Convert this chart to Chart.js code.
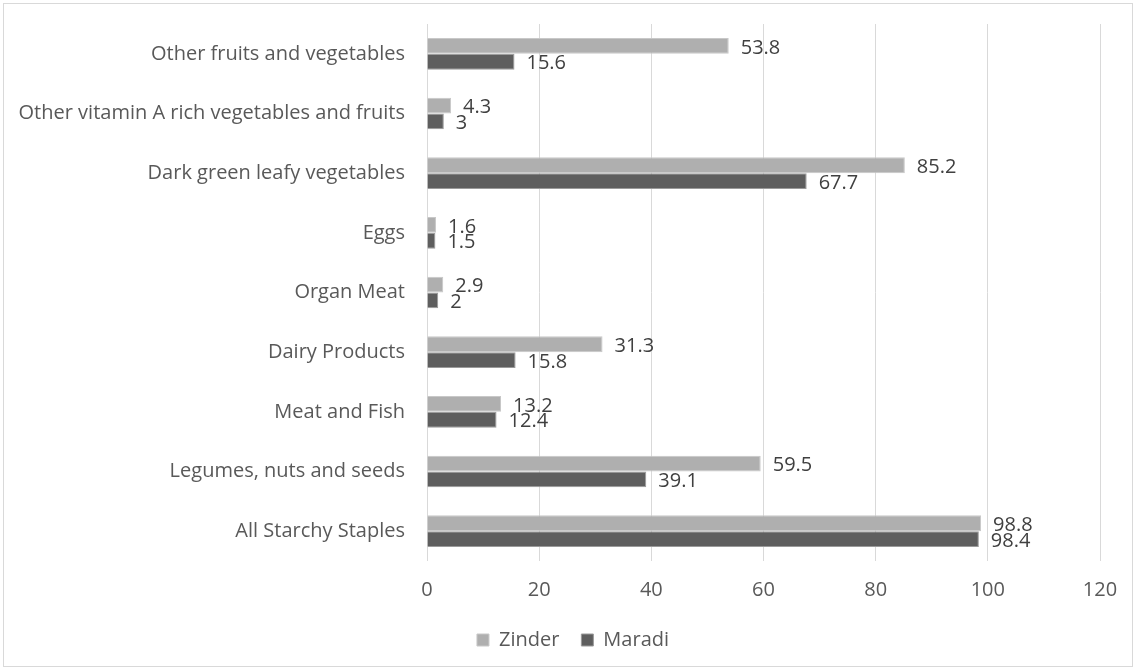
<!DOCTYPE html>
<html>
<head>
<meta charset="utf-8">
<script src="https://cdn.jsdelivr.net/npm/chart.js@4/dist/chart.umd.min.js"></script>
<style>
html,body{margin:0;padding:0;background:#fff;}
#wrap{position:absolute;left:0;top:0;width:1136px;height:670px;}
</style>
</head>
<body>
<div id="wrap"><canvas id="c" width="1136" height="670"></canvas></div>
<script>
const categories = [
  "Other fruits and vegetables",
  "Other vitamin A rich vegetables and fruits",
  "Dark green leafy vegetables",
  "Eggs",
  "Organ Meat",
  "Dairy Products",
  "Meat and Fish",
  "Legumes, nuts and seeds",
  "All Starchy Staples"
];
const zinder = [53.8, 4.3, 85.2, 1.6, 2.9, 31.3, 13.2, 59.5, 98.8];
const maradi = [15.6, 3, 67.7, 1.5, 2, 15.8, 12.4, 39.1, 98.4];
const xTicks = [0, 20, 40, 60, 80, 100, 120];

const FONT = "'Open Sans'";
const FS = 20;

const frame = {
  id: 'frame',
  beforeDraw(chart) {
    const ctx = chart.ctx;
    ctx.save();
    ctx.fillStyle = '#fff';
    ctx.fillRect(0, 0, chart.width, chart.height);
    ctx.strokeStyle = '#d9d9d9';
    ctx.lineWidth = 1;
    ctx.strokeRect(3.5, 3.5, chart.width - 7, chart.height - 7);
    ctx.restore();
  }
};

const legendShift = {
  id: 'legendShift',
  afterLayout(chart) {
    if (chart.legend) {
      chart.legend.left += 23;
      chart.legend.right += 23;
    }
  }
};

const labels = {
  id: 'valueLabels',
  afterDatasetsDraw(chart) {
    const ctx = chart.ctx;
    ctx.save();
    ctx.font = FS + 'px ' + FONT;
    ctx.fillStyle = '#404040';
    ctx.textAlign = 'left';
    ctx.textBaseline = 'middle';
    chart.data.datasets.forEach((ds, i) => {
      const meta = chart.getDatasetMeta(i);
      meta.data.forEach((el, j) => {
        ctx.fillText(String(ds.data[j]), el.x + 12, el.y + 2);
      });
    });
    ctx.restore();
  }
};

new Chart(document.getElementById('c'), {
  type: 'bar',
  data: {
    labels: categories,
    datasets: [
      { label: 'Zinder', data: zinder, backgroundColor: '#afafaf', borderColor: '#c8c8c8', borderWidth: 1,
        categoryPercentage: 0.53, barPercentage: 1.0 },
      { label: 'Maradi', data: maradi, backgroundColor: '#5e5e5e', borderColor: '#9a9a9a', borderWidth: 1,
        categoryPercentage: 0.53, barPercentage: 1.0 }
    ]
  },
  options: {
    indexAxis: 'y',
    responsive: false,
    animation: false,
    devicePixelRatio: 1,
    layout: { padding: { top: 24, right: 36, bottom: 10, left: 0 } },
    plugins: {
      legend: {
        position: 'bottom',
        labels: { font: { family: FONT, size: FS }, color: '#595959', boxWidth: 12, boxHeight: 12, padding: 22 }
      },
      tooltip: { enabled: false }
    },
    scales: {
      x: {
        min: 0, max: 120,
        afterBuildTicks(scale) { scale.ticks = xTicks.map(v => ({ value: v })); },
        afterFit(scale) { scale.height = 47; },
        grid: { color: '#d9d9d9', drawTicks: false },
        border: { display: false },
        ticks: { font: { family: FONT, size: FS }, color: '#595959', padding: 17 }
      },
      y: {
        afterFit(scale) { scale.width = 427; scale.paddingTop = 0; scale.paddingBottom = 0; },
        grid: { display: false, drawTicks: false },
        border: { display: false },
        ticks: { font: { family: FONT, size: FS }, color: '#595959', padding: 22, autoSkip: false }
      }
    }
  },
  plugins: [frame, legendShift, labels]
});
</script>
</body>
</html>
